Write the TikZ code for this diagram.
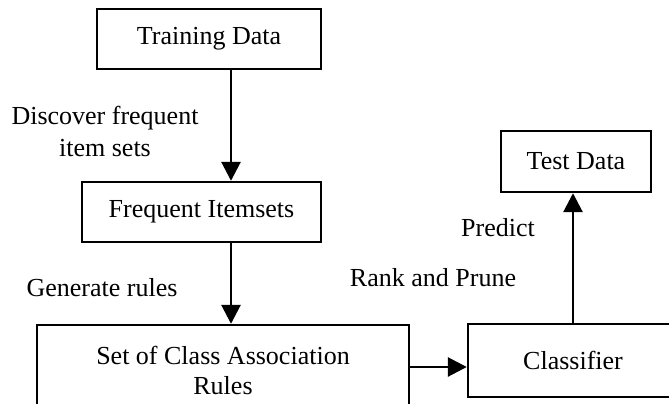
\documentclass[tikz,border=0pt]{standalone}
\usepackage{fontspec}
\setmainfont{Liberation Serif}
\usetikzlibrary{arrows.meta}
\begin{document}
\begin{tikzpicture}[x=1pt,y=-1pt,
  box/.style={draw,line width=2.4pt,inner sep=0pt,align=center,font=\fontsize{26}{30}\selectfont},
  lbl/.style={inner sep=0pt,align=center,font=\fontsize{26}{32}\selectfont},
  arr/.style={line width=2.8pt,-{Triangle[length=19pt,width=19pt]}}]
\useasboundingbox (0,0) rectangle (669,404);
\node[box,minimum width=224pt,minimum height=60pt] (td) at (209,39) {Training Data};
\node[box,minimum width=239pt,minimum height=60pt] (fi) at (201.5,212) {Frequent Itemsets};
\node[box,minimum width=372pt,minimum height=90pt] (car) at (223,370) {Set of Class Association\\Rules};
\node[box,minimum width=210pt,minimum height=73pt] (cl) at (573,360.5) {Classifier};
\node[box,minimum width=150pt,minimum height=61pt] (te) at (576,161.5) {Test Data};
\coordinate (c1) at (231,0);
\coordinate (c2) at (0,367);
\draw[arr] (td.south -| c1) -- (fi.north -| c1);
\draw[arr] (fi.south -| c1) -- (car.north -| c1);
\draw[arr] (car.east |- c2) -- (cl.west |- c2);
\draw[arr] (cl.north) -- (te.south -| cl.north);
\node[lbl] (l1) at (105,131) {Discover frequent\\item sets};
\node[lbl] (l2) at (102,288) {Generate rules};
\node[lbl] (l3) at (498,228) {Predict};
\node[lbl] (l4) at (433,278) {Rank and Prune};
\end{tikzpicture}
\end{document}
